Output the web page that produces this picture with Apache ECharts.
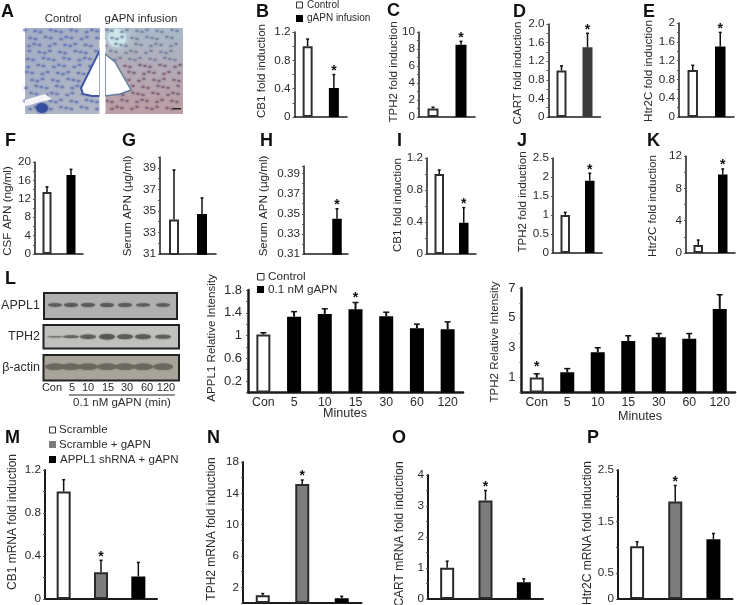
<!DOCTYPE html>
<html><head><meta charset="utf-8">
<style>html,body{margin:0;padding:0;background:#fff}#c{width:737px;height:605px}</style>
<script src="https://cdn.jsdelivr.net/npm/echarts@6/dist/echarts.min.js"></script>
</head><body><div id="c"></div>
<script>
// ---------- data ----------
const pairCats = ['Control', 'gAPN'];
const timeCats = ['Con', '5', '10', '15', '30', '60', '120'];
const trioCats = ['Scramble', 'Scramble + gAPN', 'APPL1 shRNA + gAPN'];

const bVals = [1.0, 0.41],  bErr = [1.1, 0.6],    bStars = [1];
const cVals = [1.0, 8.5],   cErr = [1.15, 8.9],   cStars = [1];
const dVals = [1.0, 1.5],   dErr = [1.1, 1.8],    dStars = [1];
const eVals = [1.0, 1.5],   eErr = [1.1, 1.8],    eStars = [1];
const fVals = [13.5, 17.2], fErr = [14.6, 18.4],  fStars = [];
const gVals = [34.2, 34.7], gErr = [38.8, 36.2],  gStars = [];
const hVals = [null, 0.345],hErr = [null, 0.355], hStars = [1];
const iVals = [1.0, 0.39],  iErr = [1.05, 0.58],  iStars = [1];
const jVals = [1.0, 1.9],   jErr = [1.07, 2.1],   jStars = [1];
const kVals = [1.0, 9.7],   kErr = [1.6, 10.4],   kStars = [1];
const l1Vals = [1.02, 1.33, 1.38, 1.46, 1.34, 1.13, 1.11];
const l1Err  = [1.05, 1.42, 1.47, 1.58, 1.41, 1.2, 1.24];
const l1Stars = [3];
const l2Vals = [1.0, 1.35, 2.7, 3.45, 3.7, 3.6, 5.6];
const l2Err  = [1.25, 1.6, 3.0, 3.8, 3.95, 3.95, 6.55];
const l2Stars = [0];
const mVals = [1.0, 0.25, 0.21], mErr = [1.11, 0.36, 0.34], mStars = [1];
const nVals = [1.0, 15.2, 0.6],  nErr = [1.2, 15.7, 0.85],  nStars = [1];
const oVals = [1.01, 3.18, 0.54],oErr = [1.22, 3.5, 0.65],  oStars = [1];
const pVals = [1.02, 1.89, 1.16],pErr = [1.11, 2.2, 1.27],  pStars = [1];

const bTicks = ['0','0.4','0.8','1.2'];
const cTicks = ['0','2','4','6','8','10'];
const dTicks = ['0','0.4','0.8','1.2','1.6','2.0'];
const eTicks = ['0','0.4','0.8','1.2','1.6','2'];
const fTicks = ['0','4','8','12','16','20'];
const gTicks = ['31','33','35','37','39'];
const hTicks = ['0.31','0.33','0.35','0.37','0.39'];
const jTicks = ['0','0.5','1','1.5','2','2.5'];
const kTicks = ['0','4','8','12'];
const l1Ticks = ['0.2','0.6','1','1.4','1.8'];
const l2Ticks = ['1','3','5','7'];
const nTicks = ['2','6','10','14','18'];
const oTicks = ['0','1','2','3','4'];
const pTicks = ['0','0.5','1.5','2.5'];

// ---------- layout / style ----------
const F = '"Liberation Sans", Arial, sans-serif';
const W = '#ffffff', K = '#000000', D = '#3a3a3a', G = '#7c7c7c';
const panels = [
 {t:'CB1 fold induction', tx:262, ty:71, l:294.5, r:347, top:32, base:117, min:0, max:1.2, step:.2, ticks:bTicks, cats:pairCats, v:bVals, e:bErr, s:bStars, col:[W,K], bw:10},
 {t:'TPH2 fold induction', tx:394, ty:72, l:419, r:475, top:32, base:117, min:0, max:10, step:1, ticks:cTicks, cats:pairCats, v:cVals, e:cErr, s:cStars, col:[W,K], bw:11},
 {t:'CART fold induction', tx:518, ty:73, l:548.5, r:600.5, top:24, base:117, min:0, max:2, step:.2, ticks:dTicks, cats:pairCats, v:dVals, e:dErr, s:dStars, col:[W,D], bw:10},
 {t:'Htr2C fold induction', tx:649, ty:71, l:679, r:734, top:23, base:117, min:0, max:2, step:.2, ticks:eTicks, cats:pairCats, v:eVals, e:eErr, s:eStars, col:[W,K], bw:10.5},
 {t:'CSF APN (ng/ml)', tx:8, ty:211, l:35, r:83, top:162, base:254, min:0, max:20, step:2, ticks:fTicks, cats:pairCats, v:fVals, e:fErr, s:fStars, col:[W,K], bw:9},
 {t:'Serum APN (µg/ml)', tx:128, ty:206, l:160, r:216, top:157, base:254, min:31, max:40, step:1, ticks:gTicks, cats:pairCats, v:gVals, e:gErr, s:gStars, col:[W,K], bw:10},
 {t:'Serum APN (µg/ml)', tx:264, ty:206, l:304, r:348, top:166, base:254, min:.31, max:.3975, step:.01, ticks:hTicks, cats:pairCats, v:hVals, e:hErr, s:hStars, col:[W,K], bw:9.5},
 {t:'CB1 fold induction', tx:398, ty:205, l:427, r:476, top:158, base:254, min:0, max:1.2, step:.2, ticks:bTicks, cats:pairCats, v:iVals, e:iErr, s:iStars, col:[W,K], bw:9.5},
 {t:'TPH2 fold induction', tx:523, ty:202, l:553, r:602, top:158, base:253, min:0, max:2.5, step:.5, ticks:jTicks, cats:pairCats, v:jVals, e:jErr, s:jStars, col:[W,K], bw:9.5},
 {t:'Htr2C fold induction', tx:653, ty:206, l:686, r:735, top:156, base:253, min:0, max:12, step:2, ticks:kTicks, cats:pairCats, v:kVals, e:kErr, s:kStars, col:[W,K], bw:9.5},
 {t:'APPL1 Relative Intensity', tx:212, ty:338, l:248, r:463, top:290, base:392.5, min:0, max:1.8, step:.2, ticks:l1Ticks, cats:timeCats, v:l1Vals, e:l1Err, s:l1Stars, col:[W,K,K,K,K,K,K], bw:14, big:true, showX:true, lw:2.5, starGap:8},
 {t:'TPH2 Relative Intensity', tx:495, ty:342, l:521.5, r:735, top:288, base:392.5, min:0, max:7, step:1, ticks:l2Ticks, cats:timeCats, v:l2Vals, e:l2Err, s:l2Stars, col:[W,K,K,K,K,K,K], bw:14, big:true, showX:true, lw:2.5, starGap:10},
 {t:'CB1 mRNA fold induction', tx:13, ty:522, l:45, r:157, top:470, base:600.5, min:0, max:1.2, step:.2, ticks:bTicks, cats:trioCats, v:mVals, e:mErr, s:mStars, col:[W,G,K], bw:14, lw:2, trio:true},
 {t:'TPH2 mRNA fold induction', tx:212, ty:529, l:243, r:361.5, top:462, base:603, min:0, max:18, step:2, ticks:nTicks, cats:trioCats, v:nVals, e:nErr, s:nStars, col:[W,G,K], bw:14, lw:2, trio:true},
 {t:'CART mRNA fold induction', tx:400, ty:534, l:428, r:543, top:475, base:603, min:0, max:4, step:.5, ticks:oTicks, cats:trioCats, v:oVals, e:oErr, s:oStars, col:[W,G,K], bw:14, lw:2, trio:true},
 {t:'Htr2C mRNA fold induction', tx:588, ty:533, l:618, r:732.5, top:470, base:603, min:0, max:2.5, step:.5, ticks:pTicks, cats:trioCats, v:pVals, e:pErr, s:pStars, col:[W,G,K], bw:14, lw:2, trio:true}
];

const INK = '#1c1c1c', TXT = '#2b2b2b';
const grid = [], xAxis = [], yAxis = [], series = [], gfx = [];

function text(s, x, y, size, o) {
  o = o || {};
  gfx.push({type:'text', silent:true, x:x, y:y, rotation:o.rot||0, z:20,
    style:{text:s, x:0, y:0, fill:o.fill||TXT, font:(o.bold?'bold ':'')+size+'px '+F,
      align:o.align||'left', verticalAlign:'middle', textAlign:o.align||'left', textVerticalAlign:'middle'}});
}
function rect(x, y, w, h, fill, stroke, lw) {
  gfx.push({type:'rect', silent:true, z:19, shape:{x:x, y:y, width:w, height:h},
    style:{fill:fill, stroke:stroke||null, lineWidth:lw||0}});
}

panels.forEach((p, i) => {
  const big = !!p.big, fs = big ? 13 : 11.7;
  grid.push({left:p.l, top:p.top, width:p.r-p.l, height:p.base-p.top, containLabel:false});
  xAxis.push({gridIndex:i, type:'category', data:p.cats, boundaryGap:true,
    axisLine:{show:true, onZero:false, lineStyle:{color:INK, width:p.lw||1.5}},
    axisTick:{show:false}, splitLine:{show:false},
    axisLabel:{show:!!p.showX, interval:0, color:TXT, fontFamily:F, fontSize:12.3, margin:4}});
  yAxis.push({gridIndex:i, type:'value', min:p.min, max:p.max, interval:p.step,
    axisLine:{show:true, onZero:false, lineStyle:{color:INK, width:p.lw||1.5}},
    axisTick:{show:true, length:2, lineStyle:{color:'#555', width:1}},
    splitLine:{show:false},
    axisLabel:{show:true, color:TXT, fontFamily:F, fontSize:fs, margin:big?6:4, showMinLabel:true, showMaxLabel:true,
      formatter:v => { const m = p.ticks.find(t => Math.abs(parseFloat(t)-v) < 1e-6); return m === undefined ? '' : m; }}});
  series.push({type:'bar', xAxisIndex:i, yAxisIndex:i, barWidth:p.bw, z:3, silent:true,
    data:p.v.map((v, j) => ({value:v, itemStyle:{color:p.col[j],
      borderColor:p.col[j]===K?K:(p.trio?'#2a2a2a':(p.col[j]===W?'#2f2f2f':p.col[j])),
      borderWidth:(p.trio||p.col[j]===W)?2:1.5}}))});
  series.push({type:'custom', xAxisIndex:i, yAxisIndex:i, z:4, silent:true, clip:false,
    encode:{x:0, y:[1,2]},
    data:p.v.map((v, j) => [j, v, p.e[j], p.s.indexOf(j) >= 0 ? 1 : 0]).filter(d => d[1] !== null),
    renderItem:(params, api) => {
      const a = api.coord([api.value(0), api.value(1)]), b = api.coord([api.value(0), api.value(2)]);
      const lw = big ? 2 : 1.5, cap = big ? 3 : 1.5;
      const ch = [
        {type:'line', shape:{x1:a[0], y1:a[1], x2:b[0], y2:b[1]}, style:{stroke:'#111', lineWidth:lw}},
        {type:'line', shape:{x1:b[0]-cap, y1:b[1], x2:b[0]+cap, y2:b[1]}, style:{stroke:'#111', lineWidth:1.5}}
      ];
      if (api.value(3)) ch.push({type:'text', style:{text:'*', x:b[0], y:b[1]-(p.starGap||7)+3.5,
        fill:'#111', font:'bold 14px '+F, align:'center', verticalAlign:'middle'}});
      return {type:'group', children:ch};
    }});
  text(p.t, p.tx, p.ty, p.trio ? 12 : 11.6, {rot:Math.PI/2, align:'center'});
});

// panel letters
[['A',1,12],['B',256,12],['C',387,11],['D',513,12],['E',643,12],['F',5,141],['G',122,141],['H',260,141],
 ['I',397,141],['J',517,141],['K',647,141],['L',5,279],['M',5,438],['N',207,438],['O',392,438],['P',587,438]]
 .forEach(a => text(a[0], a[1], a[2], 18, {bold:true, fill:'#111'}));

// legends
rect(296.5, 2, 6, 6, '#fff', '#333', 1);  text('Control', 307, 5, 10);
rect(296, 15, 7, 7, '#000');              text('gAPN infusion', 307, 18, 10);
rect(257.5, 273.5, 6.5, 6.5, '#fff', '#333', 1); text('Control', 268, 277, 11.7);
rect(257, 286, 7, 7, '#000');             text('0.1 nM gAPN', 268, 290, 11.7);
rect(49.5, 427, 6, 6, '#fff', '#333', 1); text('Scramble', 59, 430, 11.5);
rect(49, 441, 7, 7, G);                   text('Scramble + gAPN', 59, 445, 11.5);
rect(49, 456, 7, 7, '#000');              text('APPL1 shRNA + gAPN', 60, 460, 11.5);

// minutes
text('Minutes', 345, 414, 12.6, {align:'center'});
text('Minutes', 640, 417, 12.6, {align:'center'});

// photo panels (A)
text('Control', 63, 19, 11.3, {align:'center'});
text('gAPN infusion', 141, 19, 11.5, {align:'center'});
function photo() {
  const add = e => { e.silent = true; e.z = 5; gfx.push(e); };
  add({type:'rect', shape:{x:25, y:28, width:75, height:86},
    style:{fill:{type:'linear', x:0, y:0, x2:1, y2:1, colorStops:[{offset:0,color:'#a4aec6'},{offset:1,color:'#b2b8c4'}]}}});
  add({type:'rect', shape:{x:105, y:28, width:78, height:86},
    style:{fill:{type:'linear', x:0, y:0, x2:0, y2:1, colorStops:[{offset:0,color:'#a9bccb'},{offset:.45,color:'#b4adb9'},{offset:1,color:'#bc9ea3'}]}}});
  add({type:'circle', shape:{cx:117, cy:38, r:9}, style:{fill:'#cfe9ee', shadowBlur:8, shadowColor:'#cfe9ee'}});
  for (let row = 0; row < 12; row++) for (let col = 0; col < 11; col++) {
    const n = row*7 + col*13;
    const cx = 27 + col*7.2 + (row%2)*3.2 + (n%5) - 2, cy = 31 + row*7 + (n%3) - 1;
    if (cx < 98) add({type:'ellipse', shape:{cx:cx, cy:cy, rx:2.1, ry:1.3},
      style:{fill:'#5568b0', opacity:.55, shadowBlur:3, shadowColor:'#5568b0'}});
    const dx = 107 + col*7 + (row%2)*3 + ((n+2)%5) - 2;
    if (dx < 181) add({type:'ellipse', shape:{cx:dx, cy:cy, rx:1.9, ry:1.2},
      style:{fill:row<5?'#66718f':'#6b4866', opacity:.55, shadowBlur:3, shadowColor:row<5?'#66718f':'#6b4866'}});
  }
  add({type:'polygon', shape:{points:[[100,50],[81,88],[83,94],[92,96],[100,96]]},
    style:{fill:'#fff', stroke:'#3f55a6', lineWidth:2}});
  add({type:'rect', shape:{x:99.5, y:40, width:6, height:76}, style:{fill:'#fff'}});
  add({type:'polygon', shape:{points:[[105,54],[115,62],[131,90],[120,94],[105,96]]},
    style:{fill:'#fff', stroke:'#5f7f9f', lineWidth:1.5}});
  add({type:'rect', shape:{x:103, y:50, width:2, height:66}, style:{fill:'#fff'}});
  add({type:'polygon', shape:{points:[[25,100],[45,94],[52,99],[30,105],[25,106]]}, style:{fill:'#f4f6fa'}});
  add({type:'ellipse', shape:{cx:42, cy:108, rx:6, ry:5}, style:{fill:'#2e4a9c', opacity:.8, shadowBlur:3, shadowColor:'#2e4a9c'}});
  add({type:'rect', shape:{x:173, y:108, width:8, height:1.5}, style:{fill:'#222'}});
}
photo();

// blots (L)
const laneX = [55, 71, 88, 107, 125, 143, 163];
const appl1Bands = [.8, .9, .9, .95, .9, .75, .8];
const tph2Bands  = [.3, .5, .8, 1.0, .85, .85, .75];
const actinBands = [1, 1, 1, 1, 1, 1, 1];
function blot(y, h, fill, bands, ink, x0, x1, ry, label, rx) {
  gfx.push({type:'rect', silent:true, z:5, shape:{x:x0, y:y, width:x1-x0, height:h},
    style:{fill:fill, stroke:'#222', lineWidth:2}});
  bands.forEach((b, i) => gfx.push({type:'ellipse', silent:true, z:6,
    shape:{cx:laneX[i], cy:y+h/2-(label==='TPH2'?0:1), rx:rx, ry:ry*b},
    style:{fill:ink, opacity:.45+.4*b, shadowBlur:2, shadowColor:ink}}));
  text(label, 40, y+h/2, 12.5, {align:'right'});
}
blot(293, 26, '#b0b0b0', appl1Bands, '#555', 44, 177, 2.2, 'APPL1', 7);
blot(325, 23.5, '#c0c0bc', tph2Bands, '#555', 43.5, 179, 2.8, 'TPH2', 8);
blot(355, 25.5, '#a9a49a', actinBands, '#6a665f', 43.5, 179, 3.2, 'β-actin', 10);
[['Con',52],['5',72],['10',88],['15',108],['30',127],['60',147],['120',166]]
  .forEach(a => text(a[0], a[1], 388, 11, {align:'center'}));
gfx.push({type:'line', silent:true, z:6, shape:{x1:69, y1:395, x2:175, y2:395}, style:{stroke:'#222', lineWidth:1}});
text('0.1 nM gAPN (min)', 122, 403, 11.5, {align:'center'});

const chart = echarts.init(document.getElementById('c'), null, {renderer:'canvas'});
chart.setOption({animation:false, backgroundColor:'#fff', grid, xAxis, yAxis, series, graphic:{elements:gfx}});
</script></body></html>
